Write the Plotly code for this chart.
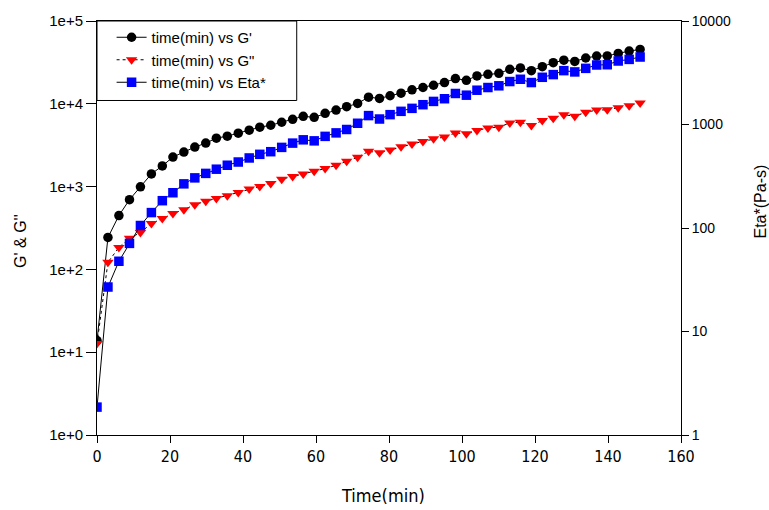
import plotly.graph_objects as go

time_min = [0, 3.0, 6.0, 8.9, 11.9, 14.9, 17.9, 20.8, 23.8, 26.8, 29.8, 32.7, 35.7, 38.7,
            41.7, 44.6, 47.6, 50.6, 53.6, 56.5, 59.5, 62.5, 65.5, 68.4, 71.4, 74.4, 77.4,
            80.3, 83.3, 86.3, 89.3, 92.2, 95.2, 98.2, 101.2, 104.1, 107.1, 110.1, 113.1,
            116.0, 119.0, 122.0, 125.0, 127.9, 130.9, 133.9, 136.9, 139.8, 142.8, 145.8, 148.8]

g_prime = [13.8, 243, 447, 695, 995, 1423, 1776, 2276, 2614, 3000, 3352, 3848, 4065, 4416,
           4798, 5214, 5509, 5985, 6503, 7063, 6870, 7674, 8400, 9230, 10110, 12030, 11610,
           12510, 13440, 14760, 15730, 16750, 18060, 20170, 19240, 21730, 22700, 23340, 26060,
           27100, 25140, 28070, 31340, 33590, 32530, 35730, 37740, 37900, 40550, 43350, 45290]

g_double = [12.7, 122, 184, 237, 279, 358, 411, 472, 527, 605, 665, 720, 776, 850,
            933, 1003, 1089, 1230, 1322, 1423, 1535, 1652, 1811, 2022, 2258, 2666, 2564,
            2762, 3027, 3261, 3514, 3775, 3980, 4453, 4333, 4756, 5114, 5214, 5869,
            5985, 5461, 6271, 6680, 7400, 7063, 7885, 8400, 8450, 8980, 9490, 10190]

eta_star = [1.86, 26.9, 47.7, 71.0, 105.7, 140.9, 183.6, 219, 267, 305, 337, 370, 404, 434,
            475, 515, 546, 601, 661, 711, 695, 768, 830, 895, 1028, 1219, 1130,
            1245, 1340, 1432, 1553, 1671, 1774, 1994, 1920, 2144, 2276, 2365, 2600,
            2735, 2543, 2858, 3034, 3314, 3221, 3487, 3758, 3780, 4106, 4256, 4487]

x_ticks = [0, 20, 40, 60, 80, 100, 120, 140, 160]
left_tickvals = [1, 10, 100, 1000, 10000, 100000]
left_ticktext = ["1e+0", "1e+1", "1e+2", "1e+3", "1e+4", "1e+5"]
right_tickvals = [1, 10, 100, 1000, 10000]
right_ticktext = ["1", "10", "100", "1000", "10000"]

names = ["time(min) vs G'", "time(min) vs G\"", "time(min) vs Eta*"]

fig = go.Figure()
fig.add_trace(go.Scatter(x=time_min, y=g_prime, name=names[0], mode="lines+markers",
                         line=dict(color="black", width=1),
                         marker=dict(symbol="circle", size=9.5, color="black")))
fig.add_trace(go.Scatter(x=time_min, y=g_double, name=names[1], mode="lines+markers",
                         line=dict(color="black", width=1, dash="dot"),
                         marker=dict(symbol="triangle-down", size=10, color="#ff0000")))
fig.add_trace(go.Scatter(x=time_min, y=eta_star, name=names[2], mode="lines+markers",
                         yaxis="y2",
                         line=dict(color="black", width=1),
                         marker=dict(symbol="square", size=9.5, color="#0000ff")))

narrow = "Liberation Sans Narrow, DejaVu Sans Condensed, sans-serif"
regular = "Liberation Sans, Arial, sans-serif"

fig.update_layout(
    width=769, height=510,
    margin=dict(l=97, r=88, t=18, b=75),
    paper_bgcolor="white", plot_bgcolor="white",
    font=dict(family=regular, size=14, color="black"),
    xaxis=dict(range=[0, 160], tickvals=x_ticks, ticks="outside", ticklen=7,
               tickcolor="black", showline=True, linecolor="black", linewidth=1,
               mirror=True, showgrid=False, zeroline=False,
               tickfont=dict(family=narrow, size=16)),
    yaxis=dict(type="log", range=[0, 5], tickvals=left_tickvals, ticktext=left_ticktext,
               ticks="outside", ticklen=10, tickcolor="black", showline=True,
               linecolor="black", linewidth=1, showgrid=False, zeroline=False,
               tickfont=dict(size=15)),
    yaxis2=dict(type="log", range=[0, 4], tickvals=right_tickvals, ticktext=right_ticktext,
                overlaying="y", side="right", ticks="outside", ticklen=7,
                tickcolor="black", showline=True, linecolor="black", linewidth=1,
                showgrid=False, zeroline=False, tickfont=dict(size=14)),
    showlegend=True,
    legend=dict(x=0.025, y=1.0, xanchor="left", yanchor="top",
                bgcolor="rgba(0,0,0,0)", borderwidth=0,
                font=dict(size=15), tracegroupgap=0, itemwidth=30),
    shapes=[dict(type="rect", xref="paper", yref="paper", x0=0, x1=0.342, y0=0.808, y1=1,
                 line=dict(color="black", width=1), fillcolor="white", layer="below")],
    annotations=[
        dict(text="Time(min)", xref="paper", yref="paper", x=0.49, y=-0.145,
             showarrow=False, xanchor="center", yanchor="middle",
             font=dict(family=narrow, size=18)),
        dict(text="G' & G''", xref="paper", yref="paper", x=-0.131, y=0.47,
             showarrow=False, textangle=-90, xanchor="center", yanchor="middle",
             font=dict(size=16)),
        dict(text="Eta*(Pa-s)", xref="paper", yref="paper", x=1.136, y=0.565,
             showarrow=False, textangle=-90, xanchor="center", yanchor="middle",
             font=dict(size=16)),
    ],
)

fig.write_html("out.html")
